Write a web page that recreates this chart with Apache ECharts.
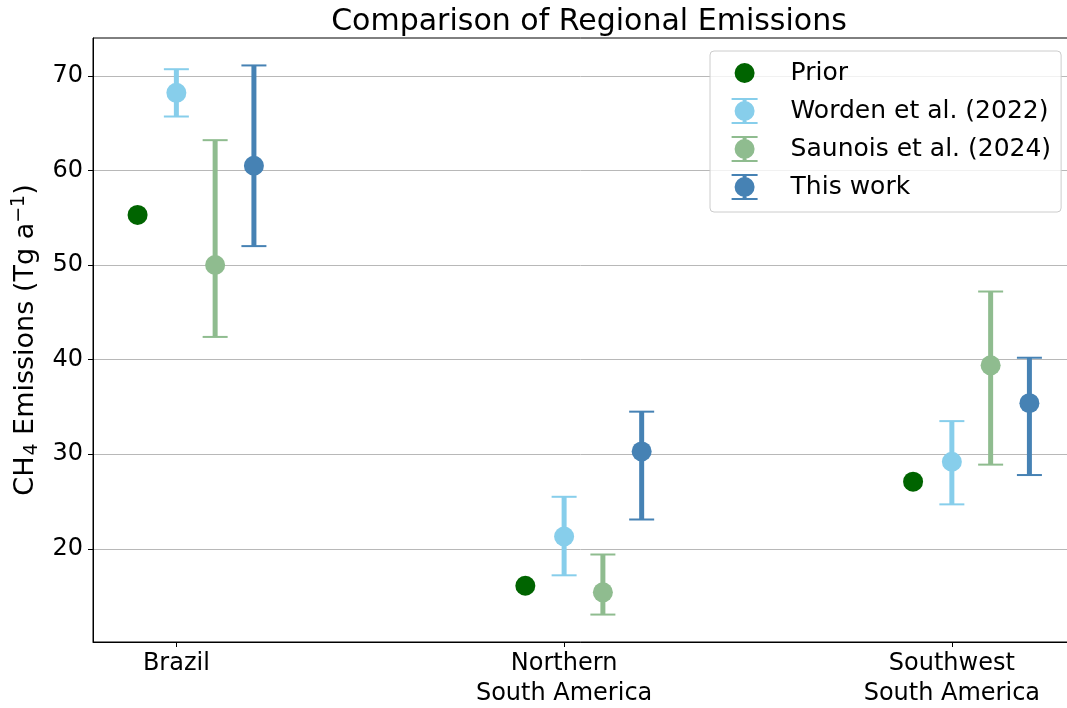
<!DOCTYPE html>
<html>
<head>
<meta charset="utf-8">
<script src="https://cdn.jsdelivr.net/npm/echarts@6/dist/echarts.min.js"></script>
<style>
html,body{margin:0;padding:0;background:#fff;}
#chart{width:1067px;height:708px;}
</style>
</head>
<body>
<div id="chart"></div>
<script>
// ---- data ----
const categories = ['Brazil', 'Northern\nSouth America', 'Southwest\nSouth America'];
const seriesNames = ['Prior', 'Worden et al. (2022)', 'Saunois et al. (2024)', 'This work'];
const prior = [55.3, 16.1, 27.1];
const worden = [68.2, 21.3, 29.2];
const wordenLow = [65.7, 17.2, 24.7];
const wordenHigh = [70.7, 25.5, 33.5];
const saunois = [50.0, 15.4, 39.4];
const saunoisLow = [42.4, 13.05, 28.9];
const saunoisHigh = [63.2, 19.4, 47.2];
const thisWork = [60.5, 30.3, 35.4];
const thisWorkLow = [52.0, 23.1, 27.8];
const thisWorkHigh = [71.1, 34.5, 40.2];
const yTicks = [20, 30, 40, 50, 60, 70];
const xTicks = [0, 1, 2];

// ---- styling ----
const colors = ['#006400', '#87CEEB', '#8FBC8F', '#4682B4'];
const offsets = [-0.1, 0, 0.1, 0.2];
const FONT = 'DejaVu Sans';

function errData(vals, lo, hi, off) {
  return vals.map((v, i) => [i + off, v, lo[i], hi[i]]);
}

function errRender(color) {
  return function (params, api) {
    const x = api.value(0);
    const c = api.coord([x, api.value(1)]);
    const lo = api.coord([x, api.value(2)]);
    const hi = api.coord([x, api.value(3)]);
    const cw = 12.5;
    return {
      type: 'group',
      children: [
        { type: 'line', shape: { x1: lo[0], y1: lo[1], x2: hi[0], y2: hi[1] }, style: { stroke: color, lineWidth: 5 } },
        { type: 'line', shape: { x1: hi[0] - cw, y1: hi[1], x2: hi[0] + cw, y2: hi[1] }, style: { stroke: color, lineWidth: 2 } },
        { type: 'line', shape: { x1: lo[0] - cw, y1: lo[1], x2: lo[0] + cw, y2: lo[1] }, style: { stroke: color, lineWidth: 2 } },
        { type: 'circle', shape: { cx: c[0], cy: c[1], r: 10 }, style: { fill: color } }
      ]
    };
  };
}

const errIcon = 'path://M0,0H26V2H0Z M0,24H26V26H0Z M11,0H15V26H11Z M3,13A10,10 0 1,1 23,13A10,10 0 1,1 3,13Z';
const dotIcon = 'path://M0,0L0.01,0Z M26,26L25.99,26Z M3,13A10,10 0 1,1 23,13A10,10 0 1,1 3,13Z';

const chart = echarts.init(document.getElementById('chart'), null, { renderer: 'canvas' });

const option = {
  animation: false,
  backgroundColor: '#fff',
  textStyle: { fontFamily: FONT },
  title: {
    text: 'Comparison of Regional Emissions',
    left: 584,
    textAlign: 'center',
    top: 2,
    textStyle: { fontFamily: FONT, fontSize: 30, fontWeight: 'normal', color: '#000' }
  },
  legend: {
    orient: 'vertical',
    left: 710,
    top: 51,
    padding: [9, 10, 12, 21.6],
    itemWidth: 26,
    itemHeight: 26,
    itemGap: 12,
    backgroundColor: 'rgba(255,255,255,0.8)',
    borderColor: '#cccccc',
    borderWidth: 1,
    borderRadius: 4,
    textStyle: { fontFamily: FONT, fontSize: 25, color: '#000', padding: [0, 0, 0, 28] },
    data: [
      { name: seriesNames[0], icon: dotIcon },
      { name: seriesNames[1], icon: errIcon },
      { name: seriesNames[2], icon: errIcon },
      { name: seriesNames[3], icon: errIcon }
    ]
  },
  grid: {
    left: 93, top: 38, width: 981, height: 604,
    outerBoundsMode: 'none',
    containLabel: false,
    show: true, borderColor: '#000', borderWidth: 1, backgroundColor: 'transparent'
  },
  xAxis: {
    type: 'value',
    min: -0.215,
    max: 2.315,
    axisLine: { onZero: false, lineStyle: { color: '#000', width: 1 } },
    axisTick: { customValues: xTicks, length: 5, lineStyle: { color: '#000' } },
    axisLabel: {
      customValues: xTicks,
      formatter: v => categories[Math.round(v)],
      fontFamily: FONT, fontSize: 24, color: '#000', lineHeight: 30, margin: 7
    },
    splitLine: { show: false }
  },
  yAxis: {
    type: 'value',
    min: 10.15,
    max: 74.0,
    name: 'CH{sub|4} Emissions (Tg a{sup|\u22121})',
    nameLocation: 'middle',
    nameGap: 47,
    nameTextStyle: {
      fontFamily: FONT, fontSize: 27, color: '#000', lineHeight: 32,
      rich: {
        sub: { fontFamily: FONT, fontSize: 19, color: '#000', lineHeight: 19, padding: [13, 0, 0, 1] },
        sup: { fontFamily: FONT, fontSize: 19, color: '#000', lineHeight: 19, padding: [0, 0, 13, 0] }
      }
    },
    axisLine: { show: true, onZero: false, lineStyle: { color: '#000', width: 1 } },
    axisTick: { show: true, customValues: yTicks, length: 5, lineStyle: { color: '#000' } },
    axisLabel: { customValues: yTicks, fontFamily: FONT, fontSize: 24, color: '#000', margin: 10 },
    splitLine: { show: true, lineStyle: { color: '#b8b8b8', width: 1 } }
  },
  series: [
    {
      name: seriesNames[0],
      type: 'scatter',
      symbol: 'circle',
      symbolSize: 20,
      itemStyle: { color: colors[0], opacity: 1 },
      data: prior.map((v, i) => [i + offsets[0], v]),
      z: 5
    },
    {
      name: seriesNames[1], type: 'custom', renderItem: errRender(colors[1]),
      itemStyle: { color: colors[1] }, encode: { x: 0, y: [1, 2, 3] },
      data: errData(worden, wordenLow, wordenHigh, offsets[1]), z: 4
    },
    {
      name: seriesNames[2], type: 'custom', renderItem: errRender(colors[2]),
      itemStyle: { color: colors[2] }, encode: { x: 0, y: [1, 2, 3] },
      data: errData(saunois, saunoisLow, saunoisHigh, offsets[2]), z: 4
    },
    {
      name: seriesNames[3], type: 'custom', renderItem: errRender(colors[3]),
      itemStyle: { color: colors[3] }, encode: { x: 0, y: [1, 2, 3] },
      data: errData(thisWork, thisWorkLow, thisWorkHigh, offsets[3]), z: 4
    }
  ]
};
chart.setOption(option);
</script>
</body>
</html>
